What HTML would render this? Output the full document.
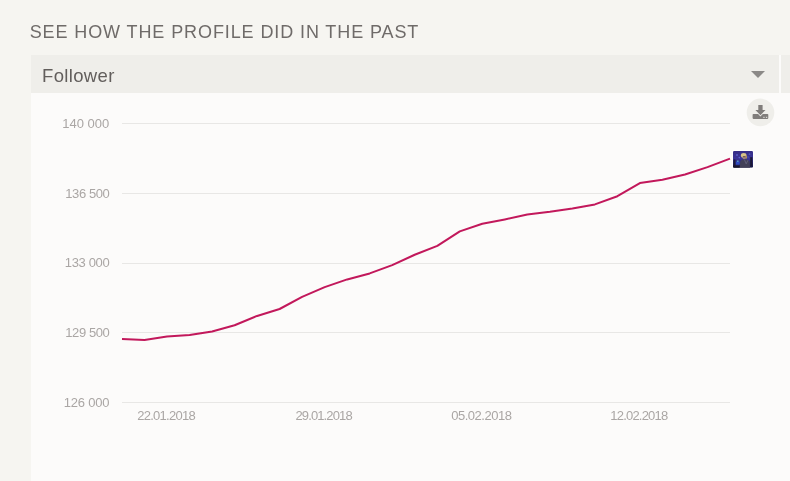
<!DOCTYPE html>
<html>
<head>
<meta charset="utf-8">
<title>Profile history</title>
<style>
html,body{margin:0;padding:0;}
body{width:790px;height:481px;overflow:hidden;background:#f6f5f1;font-family:"Liberation Sans",sans-serif;position:relative;}
#title{position:absolute;left:29.7px;top:21px;font-size:18px;line-height:22px;color:#6f6b69;letter-spacing:0.9px;white-space:nowrap;}
#panel{position:absolute;left:31px;top:55px;width:759px;height:426px;background:#fcfbfa;}
#hdr{position:absolute;left:0;top:0;width:748px;height:38px;background:#efeeea;}
#hdr2{position:absolute;left:750px;top:0;width:9px;height:38px;background:#efeeea;}
#hdr span{position:absolute;left:11px;top:10px;font-size:18.5px;line-height:22px;color:#625e5c;letter-spacing:0.35px;}
#chart{position:absolute;left:0;top:0;}
.ax{font-size:13px;fill:#aaa6a4;font-family:"Liberation Sans",sans-serif;}
.yl{letter-spacing:-0.15px;}
.xl{letter-spacing:-0.75px;}
</style>
</head>
<body>
<div id="title">SEE HOW THE PROFILE DID IN THE PAST</div>
<div id="panel">
  <div id="hdr"><span>Follower</span></div>
  <div id="hdr2"></div>
</div>
<svg id="chart" width="790" height="481" viewBox="0 0 790 481">
  <polygon points="751,71 765,71 758,78" fill="#8b8987"/>
  <circle cx="760.5" cy="112.4" r="13.8" fill="#efeeea"/>
  <g fill="#807d7b">
    <path d="M758.3 105.1h4.3v4.8h2.9l-5.05 5.3l-5.05-5.3h2.9z"/>
    <path d="M753.4 114h4.7l2.35 2.4l2.35-2.4h4.7q0.8 0 0.8 0.8v3.3q0 0.8-0.8 0.8h-14.1q-0.8 0-0.8-0.8v-3.3q0-0.8 0.8-0.8z"/>
  </g>
  <rect x="763.3" y="116.8" width="1.3" height="1.2" fill="#d8d6d2"/>
  <rect x="765.9" y="116.8" width="1.3" height="1.2" fill="#d8d6d2"/>
  <g stroke="#e8e7e5" stroke-width="1" shape-rendering="crispEdges">
    <line x1="122" x2="730" y1="123.5" y2="123.5"/>
    <line x1="122" x2="730" y1="193.5" y2="193.5"/>
    <line x1="122" x2="730" y1="263.5" y2="263.5"/>
    <line x1="122" x2="730" y1="332.5" y2="332.5"/>
    <line x1="122" x2="730" y1="402.5" y2="402.5"/>
  </g>
  <g class="ax" text-anchor="end">
    <text x="109.3" y="128" style="letter-spacing:0px">140 000</text>
    <text x="109.3" y="198" style="letter-spacing:-0.43px">136 500</text>
    <text x="109.3" y="267" style="letter-spacing:-0.35px">133 000</text>
    <text x="109.3" y="337" style="letter-spacing:-0.43px">129 500</text>
    <text x="109.3" y="407" style="letter-spacing:-0.22px">126 000</text>
  </g>
  <g class="ax">
    <text x="137.3" y="420" style="letter-spacing:-0.75px">22.01.2018</text>
    <text x="295.4" y="420" style="letter-spacing:-0.86px">29.01.2018</text>
    <text x="451.2" y="420" style="letter-spacing:-0.47px">05.02.2018</text>
    <text x="610.3" y="420" style="letter-spacing:-0.8px">12.02.2018</text>
  </g>
  <polyline fill="none" stroke="#c2185b" stroke-width="2.05" stroke-linejoin="round" points="122.0,338.9 144.5,339.9 167.0,336.6 189.6,335.1 212.1,331.4 234.6,325.3 257.1,315.9 279.6,309.0 302.1,296.9 324.7,287.1 347.2,279.4 369.7,273.4 392.2,265.1 414.7,254.7 437.3,245.9 459.8,231.4 482.3,223.7 504.8,219.4 527.3,214.6 549.9,211.8 572.4,208.5 594.9,204.4 617.4,196.2 639.9,183.1 662.4,179.7 685.0,174.5 707.5,167.1 730.0,158.6"/>
  <defs>
    <clipPath id="tc"><rect x="733" y="151" width="20" height="16.8" rx="1.2"/></clipPath>
    <filter id="tb" x="-20%" y="-20%" width="140%" height="140%"><feGaussianBlur stdDeviation="0.45"/></filter>
    <linearGradient id="tg" x1="0" y1="0" x2="0" y2="1">
      <stop offset="0" stop-color="#352d86"/>
      <stop offset="0.45" stop-color="#3c3598"/>
      <stop offset="0.75" stop-color="#2a2a70"/>
      <stop offset="1" stop-color="#1c1a3c"/>
    </linearGradient>
  </defs>
  <rect x="732" y="150" width="22" height="18.8" rx="2" fill="#ffffff"/>
  <g clip-path="url(#tc)">
    <rect x="733" y="151" width="20" height="16.8" fill="url(#tg)"/>
    <g filter="url(#tb)">
      <circle cx="737" cy="155" r="0.9" fill="#5560c8"/>
      <circle cx="739.3" cy="157.6" r="0.8" fill="#5a66d0"/>
      <circle cx="749.5" cy="154.2" r="0.9" fill="#4d55bc"/>
      <circle cx="748" cy="157" r="0.7" fill="#5560c8"/>
      <rect x="735.5" y="161.5" width="4.2" height="3.2" fill="#2e49c0"/>
      <rect x="737" y="160.5" width="1.6" height="1.4" fill="#58a0c8"/>
      <rect x="733.5" y="159.5" width="2" height="8" fill="#1d1a3c"/>
      <rect x="750.2" y="157.2" width="2.2" height="9" fill="#1b1836"/>
      <rect x="733" y="165.6" width="7" height="2.4" fill="#17152e"/>
      <path d="M739.6 168L740.4 161.2L742.8 159.2L747.2 159.4L749.6 161.6L750 168Z" fill="#434158"/>
      <path d="M744.6 160L746.2 163.8L748 160.2" fill="none" stroke="#6d6b86" stroke-width="0.7"/>
      <ellipse cx="743.7" cy="155.4" rx="2.8" ry="2.4" fill="#d8c388"/>
      <ellipse cx="746" cy="157.2" rx="1" ry="1.6" fill="#b39258"/>
      <ellipse cx="744.2" cy="157.7" rx="1.6" ry="1.6" fill="#9c827e"/>
      <rect x="742.8" y="156.3" width="2.6" height="0.8" fill="#5a4a52"/>
    </g>
  </g>
</svg>
</body>
</html>
